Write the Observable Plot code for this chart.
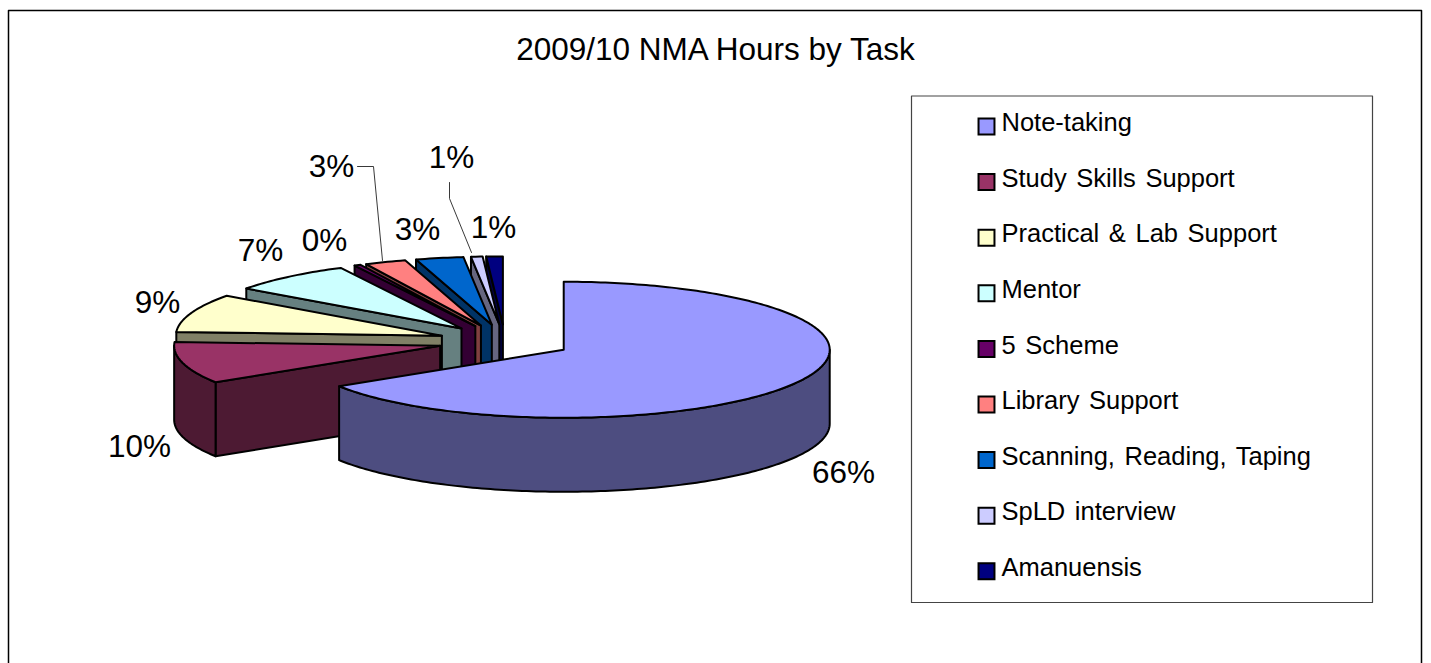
<!DOCTYPE html>
<html><head><meta charset="utf-8">
<style>
html,body{margin:0;padding:0;background:#fff;overflow:hidden}
svg{display:block;font-family:"Liberation Sans",Arial,sans-serif}
.lg text{word-spacing:2.5px}
</style>
<script src="https://cdn.jsdelivr.net/npm/d3@7"></script>
<script src="https://cdn.jsdelivr.net/npm/@observablehq/plot@0.6"></script>
</head><body><div id="chart"></div>
<script>
const title = "2009/10 NMA Hours by Task";
const categories = ["Note-taking","Study Skills Support","Practical & Lab Support","Mentor","5 Scheme","Library Support","Scanning, Reading, Taping","SpLD interview","Amanuensis"];
const shares = [66, 9.9, 9.1, 7.5, 0.4, 2.5, 2.9, 0.7, 1.0];
const percentLabels = ["66%","10%","9%","7%","0%","3%","3%","1%","1%"];
const topColors = ["#9999FF","#993366","#FFFFCC","#CCFFFF","#660066","#FF8080","#0066CC","#CCCCFF","#000080"];
const sideColors = ["#4D4D80","#4D1A33","#808066","#668080","#330033","#804040","#003366","#666680","#000040"];
const labelX = [843,139,157,260,324,417,331,493,451];
const labelY = [472,446,302,250,240,229,166,227,157];

// pie projection
const cx = 504.5, cy = 341, rx = 266, ry = 68, depth = 74, explode = 67;
const rad = d => d * Math.PI / 180;

const total = d3.sum(shares);
let acc = 0;
const slices = shares.map((v, i) => {
  const t0 = acc / total * 360; acc += v; const t1 = acc / total * 360;
  const mid = rad((t0 + t1) / 2);
  return {i, t0, t1, ax: cx + explode * Math.sin(mid), ay: cy - explode * ry / rx * Math.cos(mid)};
});
const rim = (s, t, dz = 0) => ({x: s.ax + rx * Math.sin(rad(t)), y: s.ay - ry * Math.cos(rad(t)) + dz});
const arc = (s, a, b, dz = 0) => d3.range(a, b, 1).concat([b]).map(t => rim(s, t, dz));

const faces = [];
const addFace = (id, fill, pts) => {
  pts.concat([pts[0]]).forEach(p => faces.push({...p, id, fill}));
};
slices.slice().reverse().forEach(s => {
  const side = sideColors[s.i];
  if (Math.sin(rad(s.t0)) < -1e-6) {
    const p = rim(s, s.t0);
    addFace(`start${s.i}`, side, [{x: s.ax, y: s.ay}, p, {x: p.x, y: p.y + depth}, {x: s.ax, y: s.ay + depth}]);
  }
  const a = Math.max(s.t0, 90), b = Math.min(s.t1, 270);
  if (b > a) addFace(`wall${s.i}`, side, arc(s, a, b).concat(arc(s, a, b, depth).reverse()));
  addFace(`top${s.i}`, topColors[s.i], [{x: s.ax, y: s.ay}].concat(arc(s, s.t0, s.t1)));
});

const frame = [{x:8,y:664},{x:8,y:10},{x:1421,y:10},{x:1421,y:664}];
const box = [{x:911,y:95.5},{x:1372,y:95.5},{x:1372,y:602},{x:911,y:602},{x:911,y:95.5}];
const leaders = [
  {k:"a",x:357,y:166},{k:"a",x:373,y:166},{k:"a",x:382,y:260},
  {k:"b",x:449,y:182},{k:"b",x:449,y:198},{k:"b",x:471,y:252}
];
const legendRows = categories.map((name, i) => ({name, color: topColors[i], y: 122.5 + 55.6 * i}));
const labels = percentLabels.map((text, i) => ({text, x: labelX[i], y: labelY[i]}));

const plot = Plot.plot({
  width: 1431, height: 663, margin: 0,
  x: {domain: [0, 1431], range: [0, 1431], axis: null},
  y: {domain: [0, 663], range: [0, 663], axis: null},
  color: {type: "identity"},
  style: {background: "#fff", fontFamily: '"Liberation Sans",Arial,sans-serif'},
  marks: [
    Plot.line(frame, {x:"x", y:"y", stroke:"#000", strokeWidth:1.5}),
    Plot.line(box, {x:"x", y:"y", stroke:"#444", strokeWidth:1.2}),
    Plot.line(faces, {x:"x", y:"y", z:"id", fill:"fill", stroke:"#000", strokeWidth:2, strokeLinejoin:"round"}),
    Plot.line(leaders, {x:"x", y:"y", z:"k", stroke:"#222", strokeWidth:0.9}),
    Plot.text(labels, {x:"x", y:"y", text:"text", fontSize:31.5, fill:"#000"}),
    Plot.text([title], {x:()=>715, y:()=>49, text:d=>d, fontSize:31.5, fill:"#000"}),
    Plot.dot(legendRows, {x:()=>986, y:d=>d.y+3.5, symbol:"square", r:9, fill:"color", stroke:"#000", strokeWidth:2}),
    Plot.text(legendRows, {x:()=>1001, y:"y", text:"name", textAnchor:"start", fontSize:25.5, fill:"#000", className:"lg"})
  ]
});
document.getElementById("chart").append(plot);
</script></body></html>
